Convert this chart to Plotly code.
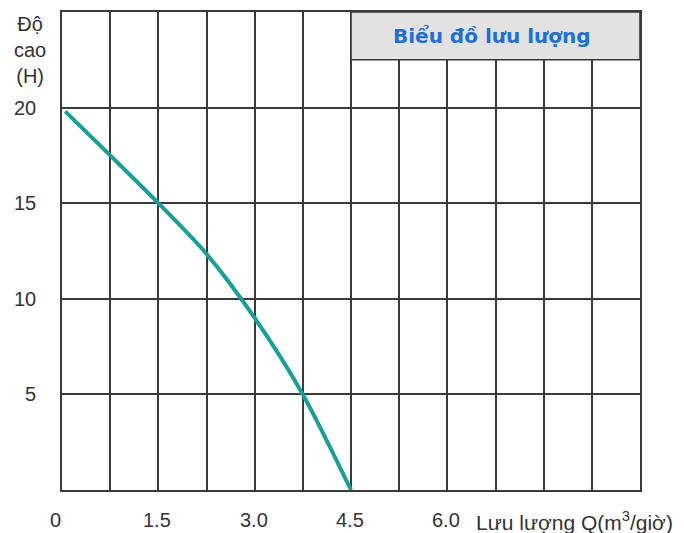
import plotly.graph_objects as go

# Data
flow_q = [0.05, 0.75, 1.5, 2.25, 3.0, 3.75, 4.5]
head_h = [19.8, 17.5, 15.0, 12.35, 9.0, 5.0, 0.0]

x_tick_vals = [0, 1.5, 3.0, 4.5, 6.0]
x_tick_text = ["0", "1.5", "3.0", "4.5", "6.0"]
y_tick_vals = [5, 10, 15, 20]
y_tick_text = ["5", "10", "15", "20"]

title_text = "Biểu đồ lưu lượng"
x_axis_title = "Lưu lượng Q(m<sup>3</sup>/giờ)"
y_axis_title = "Độ<br>cao<br>(H)"

GRID = "#3a3a3a"
FONT = "Liberation Sans, Arial, sans-serif"
TITLE_FONT = "DejaVu Sans, Verdana, sans-serif"
TXT = "#333333"
FS = 20

fig = go.Figure()
fig.add_trace(go.Scatter(
    x=flow_q, y=head_h, mode="lines",
    line=dict(color="#17a09a", width=4, shape="spline", smoothing=0.8),
    hoverinfo="skip", showlegend=False,
))

# page body has an 8px margin, so the figure is shifted by 8px
fig.update_layout(
    width=676, height=525,
    margin=dict(l=54, r=44, t=2, b=43),
    paper_bgcolor="white", plot_bgcolor="white",
    font=dict(family=FONT, size=FS, color=TXT),
    xaxis=dict(range=[0, 9], dtick=0.75, tick0=0, showgrid=True, gridcolor=GRID, gridwidth=1.6,
               showline=True, mirror=True, linecolor=GRID, linewidth=1.6,
               showticklabels=False, zeroline=False, fixedrange=True),
    yaxis=dict(range=[0, 25], dtick=2.5, tick0=0, showgrid=True, gridcolor=GRID, gridwidth=1.6,
               showline=True, mirror=True, linecolor=GRID, linewidth=1.6,
               tickmode="array", tickvals=y_tick_vals, ticktext=y_tick_text,
               tickfont=dict(family=FONT, size=FS, color=TXT),
               ticks="", ticklabelstandoff=20, zeroline=False, fixedrange=True),
)

# title box
fig.add_shape(type="rect", xref="x", yref="y", x0=4.5, x1=9, y0=22.5, y1=25,
              fillcolor="#e2e2e2", line=dict(color=GRID, width=1.6), layer="above")
fig.add_annotation(x=6.75, y=23.75, xref="x", yref="y", text="<b>" + title_text + "</b>",
                   showarrow=False, xshift=-4,
                   font=dict(family=TITLE_FONT, size=20, color="#1f6fd6"))

# x tick labels
for v, t in zip(x_tick_vals, x_tick_text):
    fig.add_annotation(x=v, y=0, xref="x", yref="paper", text=t, showarrow=False,
                       xanchor="center", yanchor="top", yshift=-17,
                       xshift=-7 if v == 0 else -1,
                       font=dict(family=FONT, size=FS, color=TXT))

fig.add_annotation(x=6.0, y=0, xref="x", yref="paper", text=x_axis_title, showarrow=False,
                   xanchor="left", yanchor="top", yshift=-16, xshift=27,
                   font=dict(family=FONT, size=21, color=TXT))

fig.add_annotation(x=0, y=1, xref="paper", yref="paper", text=y_axis_title, showarrow=False,
                   xanchor="center", yanchor="top", xshift=-32, yshift=1,
                   font=dict(family=FONT, size=FS, color=TXT))

fig.write_html("out.html")
